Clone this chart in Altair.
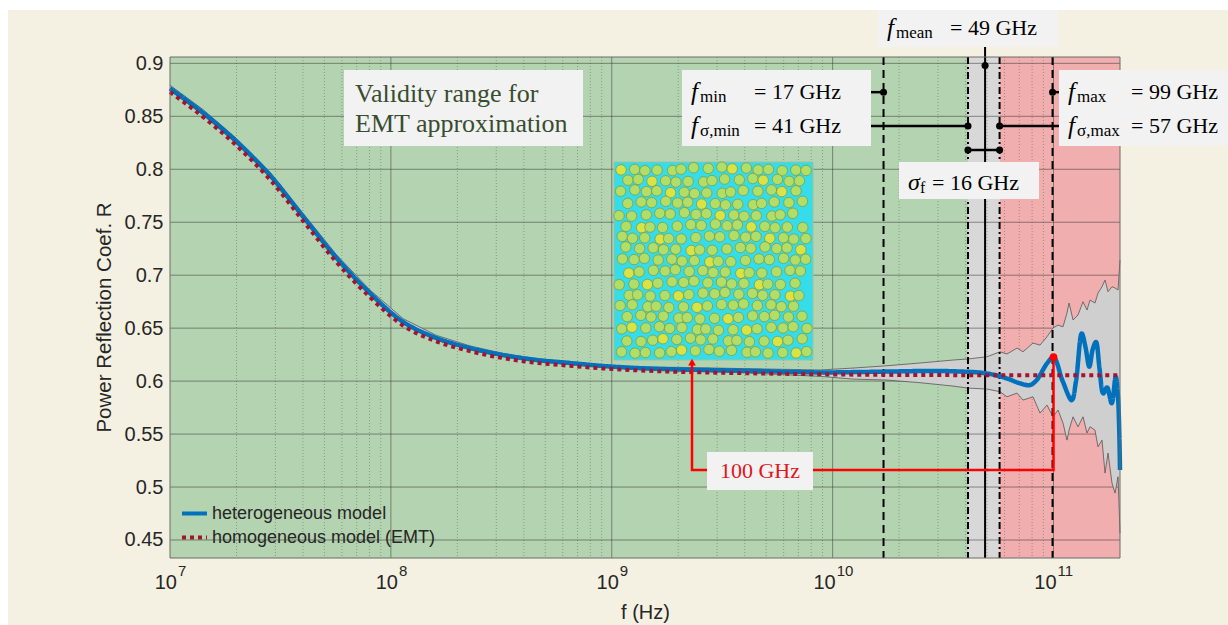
import math
import altair as alt
import pandas as pd

# ---------------- values ----------------
het_f = [1.0e7, 1.416e7, 2.005e7, 2.83e7, 4.01e7, 5.68e7, 8.04e7, 1.135e8, 1.607e8, 2.275e8,
         3.21e8, 4.55e8, 6.46e8, 9.12e8, 1.29e9, 2.0e9, 4.0e9, 8.8e9, 1.236e10, 1.763e10,
         2.487e10, 3.508e10, 4.98e10, 6.13e10, 7.05e10, 7.83e10, 8.39e10, 9.35e10, 1.0e11, 1.10e11,
         1.209e11, 1.264e11, 1.342e11, 1.396e11, 1.452e11, 1.505e11, 1.557e11, 1.615e11, 1.68e11, 1.747e11,
         1.834e11, 1.912e11, 1.959e11, 2.0e11]
het_R = [0.8764, 0.8531, 0.8260, 0.7946, 0.7552, 0.7162, 0.6831, 0.6560, 0.6407, 0.6313,
         0.6247, 0.6200, 0.6171, 0.6143, 0.6124, 0.6110, 0.6098, 0.6082, 0.6085, 0.6090,
         0.6095, 0.6093, 0.6073, 0.6026, 0.5979, 0.5963, 0.6010, 0.6168, 0.6226, 0.6000,
         0.5820, 0.6000, 0.6450, 0.6320, 0.6136, 0.6300, 0.6370, 0.6120, 0.5884, 0.5940,
         0.5790, 0.6041, 0.5850, 0.5160]

hom_f = [1.0e7, 1.416e7, 2.005e7, 2.83e7, 4.01e7, 5.68e7, 8.04e7, 1.135e8, 1.607e8, 2.275e8,
         3.21e8, 4.55e8, 6.46e8, 9.12e8, 1.29e9, 2.0e9, 4.0e9, 1.0e10, 3.0e10, 1.0e11, 2.0e11]
hom_R = [0.8730, 0.8492, 0.8222, 0.7905, 0.7512, 0.7122, 0.6793, 0.6525, 0.6375, 0.6283,
         0.6218, 0.6173, 0.6145, 0.6120, 0.6102, 0.6088, 0.6075, 0.6063, 0.6057, 0.6055, 0.6055]

band_f = [1.0e7, 1.416e7, 2.005e7, 2.83e7, 4.01e7, 5.68e7, 8.04e7, 1.135e8, 1.607e8, 2.275e8,
          3.21e8, 4.55e8, 6.46e8, 9.12e8, 1.29e9, 2.0e9, 4.0e9, 8.8e9, 1.236e10, 1.763e10,
          2.487e10, 3.508e10, 4.102e10, 5.0e10, 5.724e10, 6.157e10, 6.835e10, 7.277e10, 8.074e10, 8.688e10,
          9.345e10, 9.948e10, 1.048e11, 1.104e11, 1.151e11, 1.176e11, 1.226e11, 1.291e11, 1.36e11, 1.418e11,
          1.463e11, 1.541e11, 1.59e11, 1.658e11, 1.711e11, 1.765e11, 1.84e11, 1.899e11, 1.96e11, 2.0e11]
band_hi = [0.8794, 0.8561, 0.8290, 0.7976, 0.7582, 0.7192, 0.6861, 0.6590, 0.6432, 0.6333,
           0.6262, 0.6212, 0.6181, 0.6152, 0.6132, 0.6130, 0.6118, 0.6105, 0.6123, 0.6145,
           0.6171, 0.6199, 0.6209, 0.6230, 0.6277, 0.6256, 0.6312, 0.6277, 0.6359, 0.6340,
           0.6419, 0.6501, 0.6529, 0.6513, 0.6643, 0.6737, 0.6577, 0.6624, 0.6749, 0.6671,
           0.6765, 0.6737, 0.6831, 0.6891, 0.6954, 0.6844, 0.6891, 0.6879, 0.6860, 0.7143]
band_lo = [0.8744, 0.8511, 0.8240, 0.7926, 0.7532, 0.7142, 0.6811, 0.6540, 0.6387, 0.6296,
           0.6230, 0.6185, 0.6158, 0.6130, 0.6112, 0.6098, 0.6078, 0.6045, 0.6019, 0.6010,
           0.5985, 0.5953, 0.5934, 0.5925, 0.5900, 0.5852, 0.5887, 0.5821, 0.5852, 0.5698,
           0.5774, 0.5663, 0.5727, 0.5604, 0.5443, 0.5538, 0.5663, 0.5569, 0.5663, 0.5510,
           0.5569, 0.5538, 0.5380, 0.5443, 0.5132, 0.5321, 0.5037, 0.4943, 0.5097, 0.4565]

f_min, f_sig_min, f_mean, f_sig_max, f_max = 1.7e10, 4.1e10, 4.9e10, 5.7e10, 9.9e10
f_peak, R_peak = 1.0e11, 0.6226

y_ticks = [0.45, 0.5, 0.55, 0.6, 0.65, 0.7, 0.75, 0.8, 0.85, 0.9]
decades = [1e7, 1e8, 1e9, 1e10, 1e11]
decade_exp = ["7", "8", "9", "10", "11"]

series_names = ["heterogeneous model", "homogeneous model (EMT)"]

# ---------------- layout / style ----------------
W, H = 950, 501
F_DOM = [1e7, 2e11]
R_DOM = [0.433, 0.906]
SANS = "Liberation Sans"
SERIF = "Liberation Serif"
TXT = "#262626"

XS = alt.Scale(type="log", domain=F_DOM, nice=False)
YS = alt.Scale(domain=R_DOM, nice=False, zero=False)


def X(field, axis=None):
    if axis is None:
        return alt.X(f"{field}:Q", scale=XS)
    return alt.X(f"{field}:Q", scale=XS, axis=axis)


def Y(field, axis=None):
    if axis is None:
        return alt.Y(f"{field}:Q", scale=YS)
    return alt.Y(f"{field}:Q", scale=YS, axis=axis)


PX_PER_DEC = W / math.log10(F_DOM[1] / F_DOM[0])
PX_PER_R = H / (R_DOM[1] - R_DOM[0])


def px_to_f(px):
    return 10 ** (math.log10(F_DOM[0]) + px / PX_PER_DEC)


def px_to_R(py):
    return R_DOM[1] - py / PX_PER_R


one = pd.DataFrame({"a": [0]})

# background (cream page)
cream = alt.Chart(one).mark_rect(color="#F5F1E2").encode(
    x=alt.value(-162), x2=alt.value(1058), y=alt.value(-47), y2=alt.value(568))

# coloured regions (carries the x axis)
xaxis = alt.Axis(labels=False, ticks=False, domain=False, grid=False, title="f (Hz)",
                 titleFont=SANS, titleFontSize=20, titleFontWeight="normal", titleColor=TXT,
                 titleX=W / 2, titleY=44, titleBaseline="top", zindex=2)
regions = alt.Chart(pd.DataFrame({
    "f0": [F_DOM[0], f_sig_min, f_sig_max],
    "f1": [f_sig_min, f_sig_max, F_DOM[1]],
    "c": ["#B4D3B0", "#D8D8D8", "#F1AEAE"]})).mark_rect().encode(
    x=X("f0", xaxis), x2="f1", y=alt.value(0), y2=alt.value(H),
    fill=alt.Fill("c:N", scale=None))

# grid
minor_x = [k * 10 ** n for n in range(7, 11) for k in range(2, 10)]
grid_minor = alt.Chart(pd.DataFrame({"f": minor_x})).mark_rule(
    color="#303030", strokeWidth=1, strokeDash=[1, 2], opacity=0.35).encode(
    x=X("f"), y=alt.value(0), y2=alt.value(H))
grid_major_x = alt.Chart(pd.DataFrame({"f": decades[1:]})).mark_rule(
    color="#303030", strokeWidth=1, opacity=0.5).encode(
    x=X("f"), y=alt.value(0), y2=alt.value(H))
yaxis = alt.Axis(values=y_ticks, labelExpr="format(datum.value, '.2~f')", labelFont=SANS,
                 labelFontSize=20, labelColor=TXT, labelPadding=7, ticks=False, domain=False,
                 grid=False, title="Power Reflection Coef. R", titleFont=SANS, titleFontSize=20.5,
                 titleFontWeight="normal", titleColor=TXT, titleX=-56, titleY=260,
                 titleBaseline="bottom", zindex=2)
grid_major_y = alt.Chart(pd.DataFrame({"R": y_ticks})).mark_rule(
    color="#303030", strokeWidth=1, opacity=0.5).encode(
    y=Y("R", yaxis), x=alt.value(0), x2=alt.value(W))

# variability band
band_df = pd.DataFrame({"f": band_f, "hi": band_hi, "lo": band_lo})
band = alt.Chart(band_df).mark_area(color="#CFCFCF", opacity=1).encode(
    x=X("f"), y=Y("lo"), y2="hi")
band_up = alt.Chart(band_df).mark_line(color="#555555", strokeWidth=0.8).encode(x=X("f"), y=Y("hi"))
band_dn = alt.Chart(band_df).mark_line(color="#555555", strokeWidth=0.8).encode(x=X("f"), y=Y("lo"))

# vertical marker lines
v_dash = alt.Chart(pd.DataFrame({"f": [f_min, f_max]})).mark_rule(
    color="black", strokeWidth=2, strokeDash=[8, 5]).encode(x=X("f"), y=alt.value(0), y2=alt.value(H))
v_dashdot = alt.Chart(pd.DataFrame({"f": [f_sig_min, f_sig_max]})).mark_rule(
    color="black", strokeWidth=2, strokeDash=[7, 3, 2, 3]).encode(x=X("f"), y=alt.value(0), y2=alt.value(H))
v_mean = alt.Chart(pd.DataFrame({"f": [f_mean], "R": [0.9154]})).mark_rule(
    color="black", strokeWidth=2).encode(x=X("f"), y=Y("R"), y2=alt.value(H))

# inset picture (micro-structure)
ix0, ix1, iy0, iy1 = 444, 643, 105, 303   # pixel box of the inset inside the plot
inset_bg = alt.Chart(pd.DataFrame({"f0": [px_to_f(ix0)], "f1": [px_to_f(ix1)],
                                   "R0": [px_to_R(iy0)], "R1": [px_to_R(iy1)]})).mark_rect(
    fill="#35DDEA", stroke="#9FC29A", strokeWidth=1).encode(
    x=X("f0"), x2="f1", y=Y("R0"), y2="R1")
JX = [0.0, 1.6, -1.1, 0.7, -1.8, 1.2, -0.4, 2.0, -1.4, 0.5, -0.9, 1.4, -2.0]
JY = [0.9, -1.3, 0.4, -0.6, 1.7, -1.9, 1.1, -0.2, 1.5, -1.0, 0.2]
cf, cR, cc = [], [], []
for r in range(17):
    for c in range(16):
        px = ix0 + 7 + c * 12.4 + (6.2 if r % 2 else 0) + JX[(3 * r + 5 * c) % 13]
        py = iy0 + 7 + r * 11.4 + JY[(7 * r + 2 * c) % 11]
        if px > ix1 - 6 or py > iy1 - 6:
            continue
        cf.append(px_to_f(px))
        cR.append(px_to_R(py))
        cc.append("#D9E444" if (4 * r + 7 * c) % 9 == 0 else "#B2DD66")
inset_c = alt.Chart(pd.DataFrame({"f": cf, "R": cR, "c": cc})).mark_point(
    shape="circle", filled=True, size=110, opacity=1, stroke="#76A04C", strokeWidth=0.8).encode(
    x=X("f"), y=Y("R"), fill=alt.Fill("c:N", scale=None))

# curves
leg = alt.Legend(title=None, orient="none", legendX=10, legendY=442, symbolType="stroke",
                 symbolSize=625, symbolStrokeWidth=4, labelFont=SANS, labelFontSize=18,
                 labelColor=TXT, rowPadding=0, labelOffset=3, padding=0, labelLimit=0)
col = alt.Color("series:N", scale=alt.Scale(domain=series_names, range=["#0072BD", "#A2142F"]), legend=leg)
dsh = alt.StrokeDash("series:N", scale=alt.Scale(domain=series_names, range=[[1, 0], [4, 4]]), legend=leg)
het_df = pd.DataFrame({"f": het_f, "R": het_R, "series": series_names[0]})
hom_df = pd.DataFrame({"f": hom_f, "R": hom_R, "series": series_names[1]})
blue = alt.Chart(het_df).mark_line(strokeWidth=4.5, interpolate="catmull-rom").encode(
    x=X("f"), y=Y("R"), color=col, strokeDash=dsh)
red = alt.Chart(hom_df).mark_line(strokeWidth=4, interpolate="monotone").encode(
    x=X("f"), y=Y("R"), color=col, strokeDash=dsh)

# plot frame
frame = alt.Chart(one).mark_rect(fillOpacity=0, stroke="#6A6A6A", strokeWidth=1).encode(
    x=alt.value(0), x2=alt.value(W), y=alt.value(0), y2=alt.value(H))

# x tick labels 10^n
tick_df = pd.DataFrame({"f": decades, "e": decade_exp, "b": ["10"] * len(decades)})
tick_layers = []
for n_dig, dxb, dxe in [(1, 7, 8), (2, 3, 4)]:
    sub = tick_df[tick_df["e"].str.len() == n_dig]
    tick_layers.append(alt.Chart(sub).mark_text(align="right", baseline="middle", font=SANS,
                                                fontSize=20, color=TXT, dx=dxb).encode(
        x=X("f"), y=alt.value(526), text="b:N"))
    tick_layers.append(alt.Chart(sub).mark_text(align="left", baseline="middle", font=SANS,
                                                fontSize=15, color=TXT, dx=dxe).encode(
        x=X("f"), y=alt.value(514), text="e:N"))

# connectors
hconn = alt.Chart(pd.DataFrame({
    "f0": [px_to_f(685), px_to_f(685), f_max, f_sig_max, f_sig_min],
    "f1": [f_min, f_sig_min, px_to_f(896), px_to_f(896), f_sig_max],
    "R": [0.8728, 0.8408, 0.8728, 0.8408, 0.8182]})).mark_rule(
    color="black", strokeWidth=2.5).encode(x=X("f0"), x2="f1", y=Y("R"))
dots = alt.Chart(pd.DataFrame({
    "f": [f_min, f_sig_min, f_max, f_sig_max, f_sig_min, f_sig_max, f_mean],
    "R": [0.8728, 0.8408, 0.8728, 0.8408, 0.8182, 0.8182, 0.8980]})).mark_point(
    shape="circle", filled=True, color="black", size=50, opacity=1).encode(x=X("f"), y=Y("R"))

# annotation boxes
box_df = pd.DataFrame({
    "f0": [px_to_f(174), px_to_f(512), px_to_f(889), px_to_f(708), px_to_f(729)],
    "f1": [px_to_f(413), px_to_f(701), px_to_f(1058), px_to_f(888), px_to_f(869)],
    "R0": [px_to_R(13), px_to_R(13), px_to_R(13), px_to_R(-47), px_to_R(105)],
    "R1": [px_to_R(89), px_to_R(89), px_to_R(89), px_to_R(-10), px_to_R(142)]})
boxes = alt.Chart(box_df).mark_rect(fill="#F2F2F2").encode(x=X("f0"), x2="f1", y=Y("R0"), y2="R1")

valid_txt = alt.Chart(pd.DataFrame({
    "f": [box_df.f0[0]] * 2, "R": [px_to_R(37), px_to_R(67)],
    "t": ["Validity range for", "EMT approximation"]})).mark_text(
    align="left", baseline="middle", font=SERIF, fontSize=26, color="#384D30", dx=11).encode(
    x=X("f"), y=Y("R"), text="t:N")

lab_f = [box_df.f0[3], box_df.f0[1], box_df.f0[1], box_df.f0[2], box_df.f0[2]]
lab_R = [px_to_R(-29), px_to_R(35), px_to_R(69), px_to_R(35), px_to_R(69)]
lab_main = ["f", "f", "f", "f", "f"]
lab_sub = ["mean", "min", "σ,min", "max", "σ,max"]
lab_val = ["= 49 GHz", "= 17 GHz", "= 41 GHz", "= 99 GHz", "= 57 GHz"]
lab_df = pd.DataFrame({"f": lab_f, "R": lab_R, "m": lab_main, "s": lab_sub, "v": lab_val})
lab_m = alt.Chart(lab_df).mark_text(align="left", baseline="middle", font=SERIF, fontSize=25,
                                    fontStyle="italic", color="black", dx=9).encode(
    x=X("f"), y=Y("R"), text="m:N")
lab_s = alt.Chart(lab_df).mark_text(align="left", baseline="middle", font=SERIF, fontSize=17,
                                    color="black", dx=18, dy=5).encode(
    x=X("f"), y=Y("R"), text="s:N")
lab_v = alt.Chart(lab_df).mark_text(align="left", baseline="middle", font=SERIF, fontSize=22,
                                    color="black", dx=72).encode(
    x=X("f"), y=Y("R"), text="v:N")

sig_df = pd.DataFrame({"f": [box_df.f0[4]], "R": [px_to_R(126)], "m": ["σ"], "s": ["f"], "v": ["= 16 GHz"]})
sig_m = alt.Chart(sig_df).mark_text(align="left", baseline="middle", font=SERIF, fontSize=24,
                                    fontStyle="italic", color="black", dx=9).encode(
    x=X("f"), y=Y("R"), text="m:N")
sig_s = alt.Chart(sig_df).mark_text(align="left", baseline="middle", font=SERIF, fontSize=16,
                                    color="black", dx=21, dy=5).encode(
    x=X("f"), y=Y("R"), text="s:N")
sig_v = alt.Chart(sig_df).mark_text(align="left", baseline="middle", font=SERIF, fontSize=22,
                                    color="black", dx=33).encode(
    x=X("f"), y=Y("R"), text="v:N")

# red 100 GHz annotation
f_arrow = px_to_f(522)
red_path = alt.Chart(pd.DataFrame({
    "f": [f_peak, f_peak, f_arrow, f_arrow],
    "R": [R_peak, 0.516, 0.516, 0.616], "o": [0, 1, 2, 3]})).mark_line(
    color="#FF0000", strokeWidth=2.5).encode(x=X("f"), y=Y("R"), order="o:Q")
red_box = alt.Chart(pd.DataFrame({"f0": [px_to_f(537)], "f1": [px_to_f(643)],
                                  "R0": [px_to_R(395)], "R1": [px_to_R(433)]})).mark_rect(
    fill="#F2F2F2").encode(x=X("f0"), x2="f1", y=Y("R0"), y2="R1")
red_txt = alt.Chart(pd.DataFrame({"f": [px_to_f(590)], "R": [px_to_R(414)], "t": ["100 GHz"]})).mark_text(
    align="center", baseline="middle", font=SERIF, fontSize=22, color="#E3141B").encode(
    x=X("f"), y=Y("R"), text="t:N")
red_dot = alt.Chart(pd.DataFrame({"f": [f_peak], "R": [R_peak]})).mark_point(
    shape="circle", filled=True, color="#FF0000", size=60, opacity=1).encode(x=X("f"), y=Y("R"))
red_arrow = alt.Chart(pd.DataFrame({"f": [f_arrow], "R": [0.618]})).mark_point(
    shape="triangle-up", filled=True, color="#FF0000", size=60, opacity=1).encode(x=X("f"), y=Y("R"))

chart = alt.layer(
    cream, regions, grid_minor, grid_major_x, grid_major_y,
    band, band_up, band_dn, v_dash, v_dashdot, v_mean,
    inset_bg, inset_c, blue, red, frame, *tick_layers,
    red_path, hconn, dots, boxes, valid_txt, lab_m, lab_s, lab_v, sig_m, sig_s, sig_v,
    red_box, red_txt, red_dot, red_arrow
).properties(
    width=W, height=H,
    padding={"left": 170, "top": 57, "right": 108, "bottom": 67},
    autosize=alt.AutoSizeParams(type="none"),
    background="white",
).configure_view(stroke="transparent")

chart.save("out.html", embed_options={"renderer": "svg", "actions": False})
